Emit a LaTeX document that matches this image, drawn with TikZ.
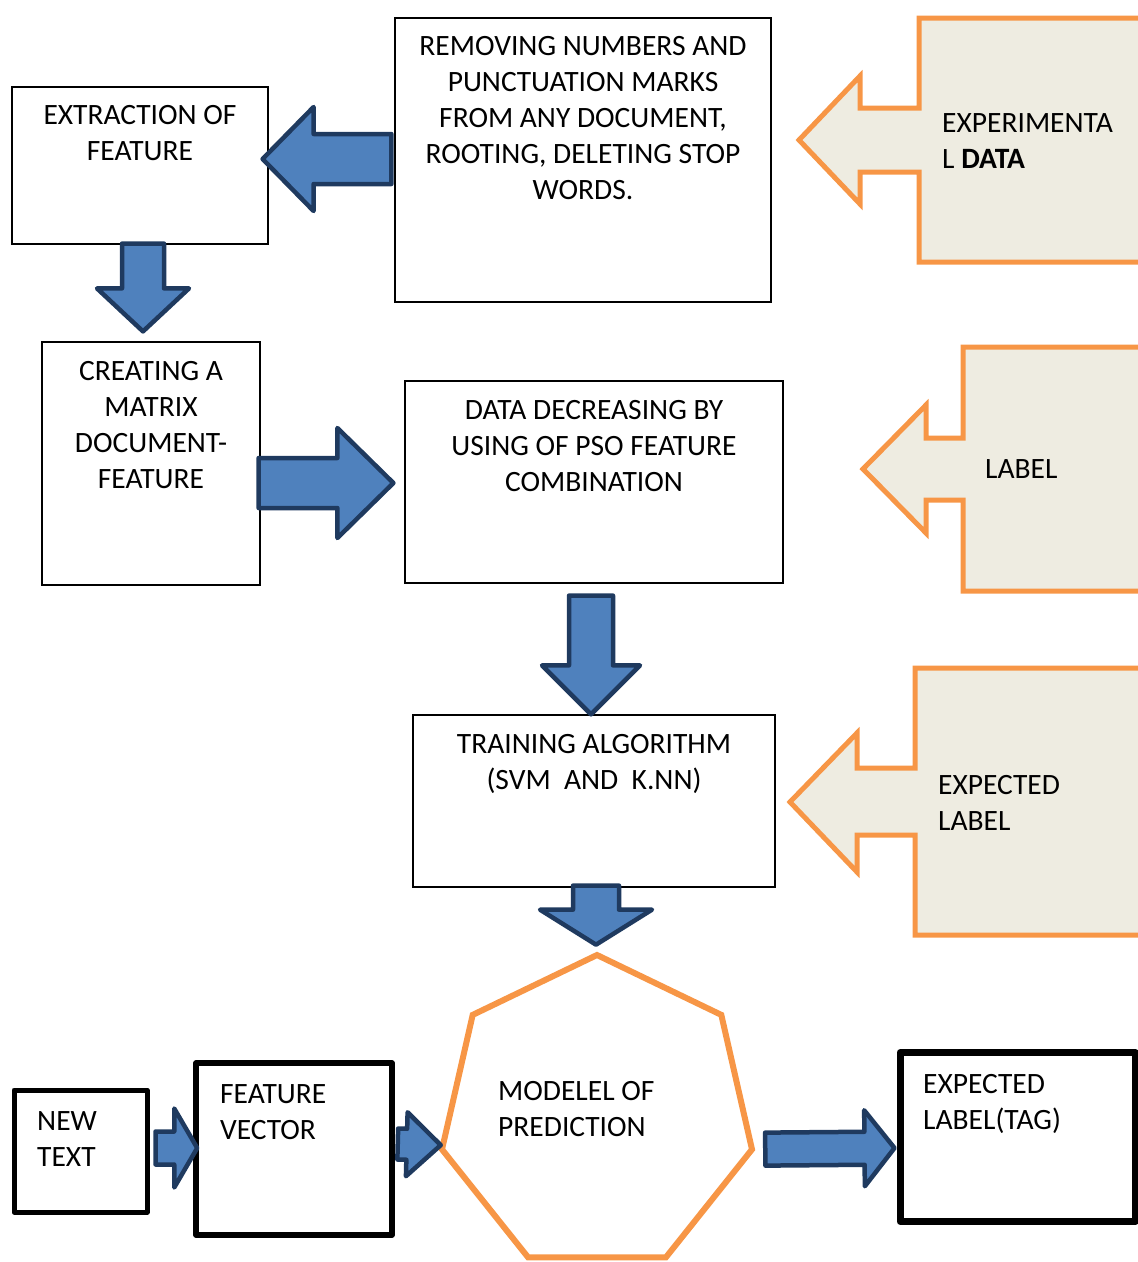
\documentclass[tikz,border=0pt]{standalone}
\usepackage{fontspec}
\setmainfont{Carlito}
\usetikzlibrary{calc,shapes.geometric}

\definecolor{arrowfill}{HTML}{4F81BD}
\definecolor{arrowline}{HTML}{1F3A5F}
\definecolor{calloutline}{HTML}{F79646}
\definecolor{calloutfill}{HTML}{EEECE1}

\tikzset{
    box/.style={draw, line width=1.2pt, inner sep=0pt},
    heavybox/.style={draw, line width=5pt, line join=round, inner sep=0pt},
    txt/.style={inner sep=0pt, font=\fontsize{29.5}{36}\selectfont},
    callout/.style={draw=calloutline, fill=calloutfill, line width=5pt},
    bigarrow/.style n args={3}{
        draw=arrowline, fill=arrowfill, line width=4.5pt, line join=round,
        to path={let \p1=(\tikztostart), \p2=(\tikztotarget), \p3=($(\p2)!#3!(\p1)$) in
            ($(\p1)!#1!90:(\p2)$) -- ($(\p3)!#1!90:(\p2)$) -- ($(\p3)!#2!90:(\p2)$) -- (\p2)
            -- ($(\p3)!#2!-90:(\p2)$) -- ($(\p3)!#1!-90:(\p2)$) -- ($(\p1)!#1!-90:(\p2)$) -- cycle}
    }
}

\begin{document}
\begin{tikzpicture}[x=1pt, y=-1pt]
        \useasboundingbox (0,0) rectangle (1138,1262);
        \clip (0,0) rectangle (1138,1262);

        % callouts on the right
        \draw[callout] (1150,18) -- (919,18) -- (919,108) -- (860,108) -- (860,76) -- (799,140)
            -- (860,204) -- (860,172) -- (919,172) -- (919,262) -- (1150,262) -- cycle;
        \draw[callout] (1150,347) -- (963,347) -- (963,438) -- (926,438) -- (926,405) -- (863,469)
            -- (926,533) -- (926,500) -- (963,500) -- (963,591) -- (1150,591) -- cycle;
        \draw[callout] (1150,668) -- (915,668) -- (915,768) -- (857,768) -- (857,733) -- (790,802)
            -- (857,872) -- (857,835) -- (915,835) -- (915,935) -- (1150,935) -- cycle;

        \node[txt, anchor=north west, align=left] (exp) at (942,113) {EXPERIMENTA\\L \textbf{DATA}};
        \node[txt, anchor=west] (lab) at (985,469) {LABEL};
        \node[txt, anchor=north west, align=left] (explab) at (938,775.5) {EXPECTED\\LABEL};

        % boxes
        \node[box, minimum width=256, minimum height=157] (extract) at (140,165.5) {};
        \node[box, minimum width=376, minimum height=284] (remove) at (583,160) {};
        \node[box, minimum width=218, minimum height=243] (create) at (151,463.5) {};
        \node[box, minimum width=378, minimum height=202] (decrease) at (594,482) {};
        \node[box, minimum width=362, minimum height=172] (train) at (594,801) {};
        \node[heavybox, minimum width=133, minimum height=122] (newtext) at (80.5,1151) {};
        \node[heavybox, line width=5.5pt, minimum width=196, minimum height=172] (fvec) at (294,1149) {};
        \node[heavybox, line width=7pt, minimum width=235, minimum height=169] (tag) at (1017.5,1137) {};
        \node[draw=calloutline, line width=6pt, regular polygon, regular polygon sides=7,
            minimum size=318, inner sep=0pt] (model) at (597,1114) {};

        \node[txt, anchor=north, align=center] (extract-t) at (140,105.5) {EXTRACTION OF\\FEATURE};
        \node[txt, anchor=north, align=center] (remove-t) at (583,36.5)
            {REMOVING NUMBERS AND\\PUNCTUATION MARKS\\FROM ANY DOCUMENT,\\ROOTING, DELETING STOP\\WORDS.};
        \node[txt, anchor=north, align=center] (create-t) at (151,361.5) {CREATING A\\MATRIX\\DOCUMENT-\\FEATURE};
        \node[txt, anchor=north, align=center] (decrease-t) at (594,400.5)
            {DATA DECREASING BY\\USING OF PSO FEATURE\\COMBINATION};
        \node[txt, anchor=north, align=center] (train-t) at (594,734.5) {TRAINING ALGORITHM\\(SVM\ \ AND\ \ K.NN)};
        \node[txt, anchor=north west, align=left] (model-t) at (498,1081.5) {MODELEL OF\\PREDICTION};
        \node[txt, anchor=north west, align=left] (newtext-t) at (37,1111.5) {NEW\\TEXT};
        \node[txt, anchor=north west, align=left] (fvec-t) at (220,1084.5) {FEATURE\\VECTOR};
        \node[txt, anchor=north west, align=left] (tag-t) at (923,1074.5) {EXPECTED\\LABEL(TAG)};

        % block arrows
        \draw[bigarrow={25pt}{52pt}{51pt}] ($(remove.west)+(-3,-1)$) to ($(extract.east)+(-6,-6.5)$);
        \draw[bigarrow={21pt}{46pt}{43pt}] ($(extract.south)+(3,-1)$) to ($(create.north)+(-8,-10)$);
        \draw[bigarrow={25pt}{55pt}{56pt}] ($(create.east)+(-2,19.5)$) to ($(decrease.west)+(-11,1)$);
        \draw[bigarrow={22pt}{49pt}{49pt}] ($(decrease.south)+(-3,12)$) to ($(train.north)+(-3,0)$);
        \draw[bigarrow={23pt}{56pt}{35pt}] ($(train.south)+(2,-2)$) to ($(model.corner 1)+(-1,-7)$);
        \draw[bigarrow={16.5pt}{39.5pt}{23pt}] ($(newtext.east)+(6,-3)$) to ($(fvec.west)+(4,-1)$);
        \draw[bigarrow={15.5pt}{32pt}{34pt}] ($(fvec.east)+(3,-5)$) to ($(model.corner 3)+(2,-5)$);
        \draw[bigarrow={16.5pt}{38pt}{30pt}] ($(model.corner 6)+(10,-1)$) to ($(tag.west)+(-2,11)$);
\end{tikzpicture}
\end{document}
